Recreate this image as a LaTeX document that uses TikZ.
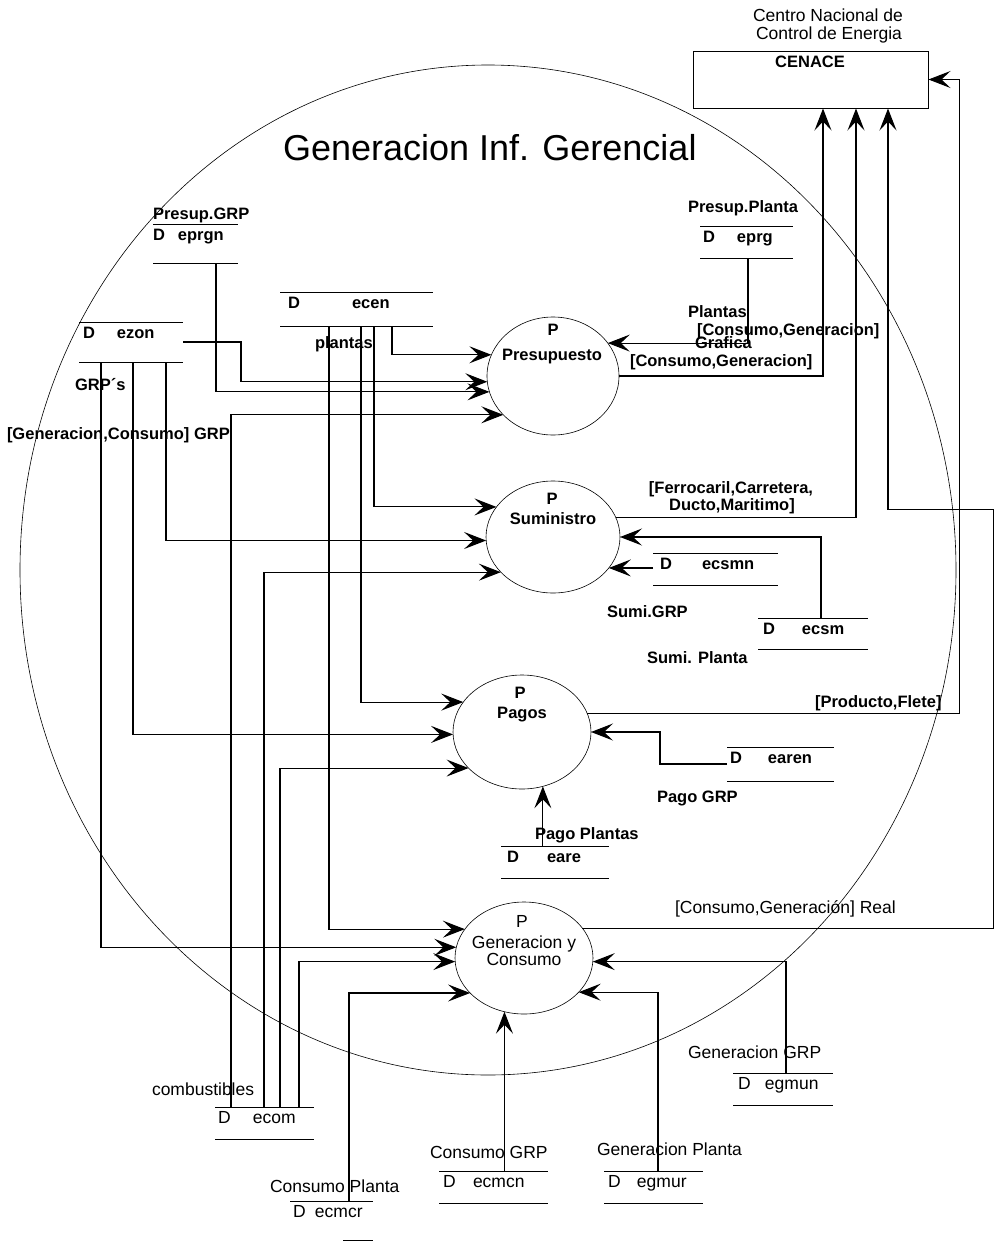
\documentclass[tikz,border=0pt]{standalone}
\usepackage{fontspec}
\setmainfont{Liberation Sans}
\usetikzlibrary{arrows.meta,shapes.geometric}

% label fonts
\newcommand{\lblheavy}{\fontsize{16.5}{19}\selectfont\bfseries}
\newcommand{\lbllight}{\fontsize{17.5}{20}\selectfont}

\begin{document}
\begin{tikzpicture}[x=1pt,y=-1pt,
  wire/.style={line width=1.1pt},
  flow/.style={wire,-{Stealth[length=22pt,width=17pt,inset=9pt]}},
  proc/.style={ellipse,draw,line width=0.6pt,inner sep=0pt,outer sep=0pt},
  storeline/.style={draw,line width=1pt},
  storetop/.style 2 args={anchor=north west,inner sep=0pt,outer sep=0pt,align=left,
    text width=#1,text height=16.5pt,text depth=#2,
    append after command={(\tikzlastnode.north west) edge[storeline] (\tikzlastnode.north east)}},
  store/.style 2 args={storetop={#1}{#2},
    append after command={(\tikzlastnode.south west) edge[storeline] (\tikzlastnode.south east)}},
  lab/.style={anchor=base west,inner sep=0pt,outer sep=0pt},
  ptext/.style={anchor=base,inner sep=0pt,outer sep=0pt},
]
\fill[white] (0,0) rectangle (999,1242);
\useasboundingbox (0,0) rectangle (999,1242);

% system boundary
\node[ellipse,draw,line width=0.6pt,minimum width=936pt,minimum height=1010pt,inner sep=0pt] (limite) at (488,570) {};

% title
\node[lab,font=\fontsize{36}{40}\selectfont] (titulo) at (283,160) {Generacion Inf. Gerencial};

% external entity
\node[draw,line width=1pt,minimum width=235pt,minimum height=57pt,inner sep=0pt] (cen) at (810.5,79.5) {};
\node[ptext,font=\lbllight] (cenA) at (828,21) {Centro Nacional de};
\node[ptext,font=\lbllight] (cenB) at (829,39) {Control de Energia};
\node[ptext,font=\lblheavy] (cenT) at (810,67) {CENACE};

% processes
\node[proc,minimum width=132pt,minimum height=118pt] (pres) at (553,376) {};
\node[proc,minimum width=134pt,minimum height=112pt] (sum) at (553,537) {};
\node[proc,minimum width=138pt,minimum height=114pt] (pag) at (522,732) {};
\node[proc,minimum width=138pt,minimum height=112pt] (gyc) at (524,958) {};

\node[ptext,font=\lblheavy] (presP) at (553,335) {P};
\node[ptext,font=\lblheavy] (presN) at (552,360) {Presupuesto};
\node[ptext,font=\lblheavy] (sumP) at (552,504) {P};
\node[ptext,font=\lblheavy] (sumN) at (553,524) {Suministro};
\node[ptext,font=\lblheavy] (pagP) at (520,698) {P};
\node[ptext,font=\lblheavy] (pagN) at (522,718) {Pagos};
\node[ptext,font=\lbllight] (gycP) at (522,927) {P};
\node[ptext,font=\lbllight] (gycN) at (524,948) {Generacion y};
\node[ptext,font=\lbllight] (gycM) at (524,965) {Consumo};

% data stores
\node[store={85pt}{22.5pt},font=\lblheavy] (eprgn) at (153,224) {\makebox[25pt][l]{D}eprgn};
\node[store={104pt}{23.5pt},font=\lblheavy] (ezon) at (79,322) {\hspace*{4pt}\makebox[34pt][l]{D}ezon};
\node[store={153pt}{17.5pt},font=\lblheavy] (ecen) at (280,292) {\hspace*{8pt}\makebox[64pt][l]{D}ecen};
\node[store={93pt}{15.5pt},font=\lblheavy] (eprg) at (700,226) {\hspace*{3pt}\makebox[34pt][l]{D}eprg};
\node[store={125pt}{15.5pt},font=\lblheavy] (ecsmn) at (653,553) {\hspace*{7pt}\makebox[42pt][l]{D}ecsmn};
\node[store={110pt}{14.5pt},font=\lblheavy] (ecsm) at (758,618) {\hspace*{5pt}\makebox[39pt][l]{D}ecsm};
\node[store={107pt}{17.5pt},font=\lblheavy] (earen) at (727,747) {\hspace*{3pt}\makebox[38pt][l]{D}earen};
\node[store={108pt}{15.5pt},font=\lblheavy] (eare) at (501,846) {\hspace*{6pt}\makebox[40pt][l]{D}eare};
\node[store={100pt}{15.5pt},font=\lbllight] (egmun) at (733,1073) {\hspace*{5pt}\makebox[27pt][l]{D}egmun};
\node[store={99pt}{15.5pt},font=\lbllight] (egmur) at (604,1171) {\hspace*{4pt}\makebox[29pt][l]{D}egmur};
\node[store={109pt}{15.5pt},font=\lbllight] (ecmcn) at (439,1171) {\hspace*{4pt}\makebox[30pt][l]{D}ecmcn};
\node[store={99pt}{15.5pt},font=\lbllight] (ecom) at (215,1107) {\hspace*{3pt}\makebox[35pt][l]{D}ecom};
\node[storetop={83pt}{22.5pt},font=\lbllight] (ecmcr) at (290,1201) {\hspace*{3pt}\makebox[22pt][l]{D}ecmcr};
\draw[storeline] ([xshift=-30pt]ecmcr.south east) -- (ecmcr.south east);

% flow labels
\node[lab,font=\lblheavy] (lPresGRP) at (153,219) {Presup.GRP};
\node[lab,font=\lblheavy] (lGRPs) at (75,390) {GRP´s};
\node[lab,font=\lblheavy] (lGenConsGRP) at (7,439) {[Generacion,Consumo] GRP};
\node[lab,font=\lblheavy] (lplantas) at (315,348) {plantas};
\node[lab,font=\lblheavy] (lPresPlanta) at (688,212) {Presup.Planta};
\node[lab,font=\lblheavy] (lPlantas) at (688,317) {Plantas};
\node[lab,font=\lblheavy] (lGrafica) at (695,348) {Grafica};
\node[lab,font=\lblheavy] (lConsGenA) at (697,335) {[Consumo,Generacion]};
\node[lab,font=\lblheavy] (lConsGenB) at (630,366) {[Consumo,Generacion]};
\node[ptext,font=\lblheavy] (lFerroA) at (731,493) {[Ferrocaril,Carretera,};
\node[ptext,font=\lblheavy] (lFerroB) at (732,510) {Ducto,Maritimo]};
\node[lab,font=\lblheavy] (lSumiGRP) at (607,617) {Sumi.GRP};
\node[lab,font=\lblheavy] (lSumiPlanta) at (647,663) {Sumi. Planta};
\node[lab,font=\lblheavy] (lProdFlete) at (815,707) {[Producto,Flete]};
\node[lab,font=\lblheavy] (lPagoGRP) at (657,802) {Pago GRP};
\node[lab,font=\lblheavy] (lPagoPlantas) at (535,839) {Pago Plantas};
\node[lab,font=\lbllight] (lReal) at (675,913) {[Consumo,Generación] Real};
\node[lab,font=\lbllight] (lGenGRP) at (688,1058) {Generacion GRP};
\node[lab,font=\lbllight] (lGenPlanta) at (597,1155) {Generacion Planta};
\node[lab,font=\lbllight] (lConsGRP) at (430,1158) {Consumo GRP};
\node[lab,font=\lbllight] (lConsPlanta) at (270,1192) {Consumo Planta};
\node[lab,font=\lbllight] (lComb) at (152,1095) {combustibles};

% flows into Presupuesto
\draw[flow] ([xshift=112pt]ecen.south west) |- (pres.161);
\draw[flow] (ezon.east) -- ++(58,0) |- (pres.185);
\draw[flow] ([xshift=63pt]eprgn.south west) |- (pres.194);
\draw[flow] ([xshift=16pt]ecom.north west) |- (pres.218);
\draw[flow] ([xshift=48pt]eprg.south west) |- (pres.31);
% flows into Suministro
\draw[flow] ([xshift=94pt]ecen.south west) |- (sum.152);
\draw[flow] ([xshift=87pt]ezon.south west) |- (sum.183);
\draw[flow] ([xshift=49pt]ecom.north west) |- (sum.214);
\draw[flow] ([xshift=63pt]ecsm.north west) |- (sum.east);
\draw[flow] (ecsmn.west |- sum.-29) -- (sum.-29);
% flows into Pagos
\draw[flow] ([xshift=81pt]ecen.south west) |- (pag.153);
\draw[flow] ([xshift=54pt]ezon.south west) |- (pag.182);
\draw[flow] ([xshift=65pt]ecom.north west) |- (pag.214);
\draw[flow] (earen.west) -- ++(-67,0) |- (pag.east);
\draw[flow] (pag.-69 |- eare.north) -- (pag.-69);
% flows into Generacion y Consumo
\draw[flow] ([xshift=49pt]ecen.south west) |- (gyc.154);
\draw[flow] ([xshift=22pt]ezon.south west) |- (gyc.171);
\draw[flow] ([xshift=84pt]ecom.north west) |- (gyc.183);
\draw[flow] ([xshift=59pt]ecmcr.north west) |- (gyc.213);
\draw[flow] ([xshift=53pt]egmun.north west) |- (gyc.-3);
\draw[flow] ([xshift=54pt]egmur.north west) |- (gyc.-32);
\draw[flow] (gyc.-110 |- ecmcn.north) -- (gyc.-110);
% reports sent to CENACE
\draw[flow] (pres.east) -| ([xshift=12.5pt]cen.south);
\draw[flow] (sum.17) -| ([xshift=45.5pt]cen.south);
\draw[flow] (gyc.27) -- ++(411,0) -- ++(0,-419) -| ([xshift=77.5pt]cen.south);
\draw[flow] (pag.16) -- ++(372,0) |- (cen.east);
\end{tikzpicture}
\end{document}
